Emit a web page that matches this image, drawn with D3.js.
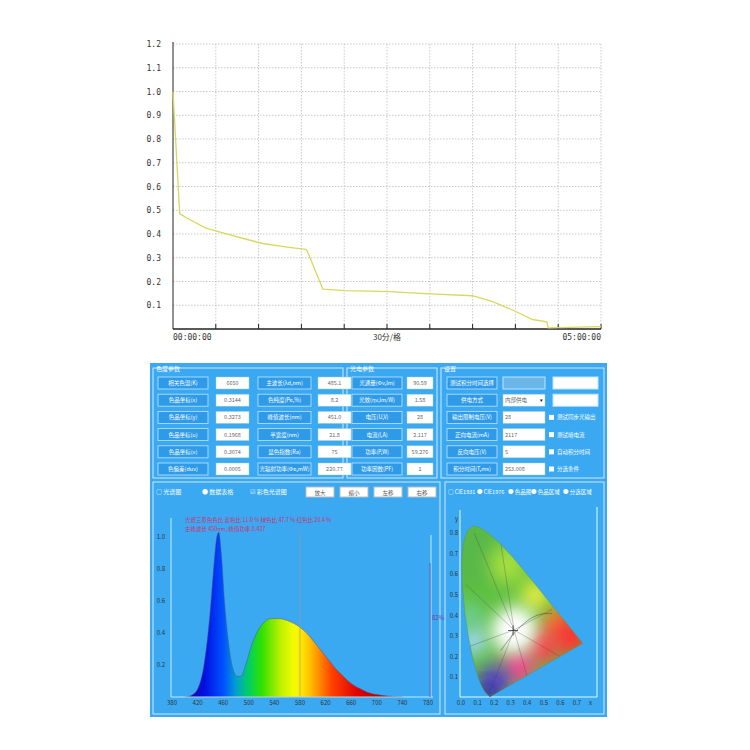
<!DOCTYPE html>
<html><head><meta charset="utf-8">
<script src="https://cdn.jsdelivr.net/npm/d3@7"></script>
<style>body{margin:0;background:#fff}svg{display:block;font-family:"Noto Sans CJK SC","DejaVu Sans",sans-serif}</style>
</head><body><svg id="c" width="750" height="750"></svg>
<script>
// ---- top decay curve (minutes, relative value)
const decayTime = [0,4.7,12,23,35,50,63,80,93,94,105,121,152,180,210,224,238,252,262,263,300];
const decayValue = [1.0,0.485,0.46,0.425,0.405,0.38,0.36,0.345,0.335,0.33,0.168,0.162,0.157,0.148,0.14,0.115,0.08,0.04,0.03,0.005,0.01];
const yTicks = [0.1,0.2,0.3,0.4,0.5,0.6,0.7,0.8,0.9,1.0,1.1,1.2];
// ---- spectrum
const wl = [400,410,420,430,440,445,450,453,457,462,468,475,482,488,495,505,515,525,535,545,555,565,575,585,595,605,615,625,635,645,655,665,675,685,700,720,740];
const spec = [0,0.01,0.05,0.2,0.55,0.8,1.0,1.03,0.9,0.6,0.35,0.18,0.13,0.13,0.2,0.33,0.42,0.47,0.49,0.49,0.485,0.47,0.45,0.42,0.38,0.33,0.28,0.23,0.18,0.14,0.1,0.07,0.05,0.03,0.015,0.005,0];
const specXTicks = [380,420,460,500,540,580,620,660,700,740,780];
const specYTicks = [0.2,0.4,0.6,0.8,1.0];
// ---- parameter tables
const colorLabels = ["相关色温(K)","色品坐标(x)","色品坐标(y)","色品坐标(u)","色品坐标(v)","色偏差(duv)"];
const colorValues = ["6650","0.3144","0.3273","0.1968","0.3074","0.0005"];
const colorLabels2 = ["主波长(λd,nm)","色纯度(Pe,%)","峰值波长(nm)","半宽度(nm)","显色指数(Ra)","光辐射功率(Φe,mW)"];
const colorValues2 = ["485.1","8.2","451.0","21.8","75","220.77"];
const elecLabels = ["光通量(Φv,lm)","光效(ηv,lm/W)","电压(U,V)","电流(I,A)","功率(P,W)","功率因数(PF)"];
const elecValues = ["90.59","1.58","28","2.117","59.276","1"];
const setLabels = ["测试积分时间选择","供电方式","输出限制电压(V)","正向电流(mA)","反向电压(V)","积分时间(T,ms)"];
const setValues = ["","内部供电","28","2117","5","253.008"];
const setChecks = ["","","测试同步光输出","测试暗电流","自动积分时间","分选条件"];
// ---- CIE locus
const locusX = [0.1741,0.1440,0.1241,0.1096,0.0913,0.0687,0.0454,0.0235,0.0082,0.0039,0.0139,0.0389,0.0743,0.1142,0.1547,0.2296,0.3016,0.3731,0.4441,0.5125,0.5752,0.6270,0.6915,0.7190,0.7347];
const locusY = [0.0050,0.0297,0.0578,0.0868,0.1327,0.2007,0.2950,0.4127,0.5384,0.6548,0.7502,0.8120,0.8338,0.8262,0.8059,0.7543,0.6923,0.6245,0.5547,0.4866,0.4242,0.3725,0.3083,0.2809,0.2653];
const cieTicksX = [0,0.1,0.2,0.3,0.4,0.5,0.6,0.7];
const cieTicksY = [0.1,0.2,0.3,0.4,0.5,0.6,0.7,0.8];

const svg = d3.select("#c");
const defs = svg.append("defs");

// ===== top chart
const x = d3.scaleLinear().domain([0,300]).range([173,601]);
const y = d3.scaleLinear().domain([0,1.2]).range([329,44]);
const topG = svg.append("g");
topG.selectAll(".gx").data(d3.range(30,301,30)).join("line")
 .attr("x1",d=>x(d)).attr("x2",d=>x(d)).attr("y1",44).attr("y2",329)
 .attr("stroke","#bbb").attr("stroke-dasharray","1.5,1.5").attr("stroke-width",0.8);
topG.selectAll(".gy").data(yTicks).join("line")
 .attr("x1",173).attr("x2",601).attr("y1",d=>y(d)).attr("y2",d=>y(d))
 .attr("stroke","#bbb").attr("stroke-dasharray","1.5,1.5").attr("stroke-width",0.8);
topG.selectAll(".yl").data(yTicks).join("text").attr("x",161).attr("y",d=>y(d)+3)
 .attr("text-anchor","end").attr("font-size",8).attr("fill","#333").attr("font-family","DejaVu Sans Mono").text(d=>d.toFixed(1));
topG.append("line").attr("x1",173).attr("x2",173).attr("y1",42).attr("y2",329).attr("stroke","#222");
topG.append("line").attr("x1",173).attr("x2",601).attr("y1",329).attr("y2",329).attr("stroke","#222").attr("stroke-width",1.5);
topG.selectAll(".xt").data(d3.range(30,301,30)).join("line").attr("x1",d=>x(d)).attr("x2",d=>x(d)).attr("y1",324).attr("y2",329).attr("stroke","#222");
topG.append("text").attr("x",173).attr("y",340).attr("font-size",8).attr("font-family","DejaVu Sans Mono").attr("fill","#333").text("00:00:00");
topG.append("text").attr("x",387).attr("y",340).attr("font-size",8).attr("text-anchor","middle").attr("fill","#333").text("30分/格");
topG.append("text").attr("x",601).attr("y",340).attr("font-size",8).attr("text-anchor","end").attr("font-family","DejaVu Sans Mono").attr("fill","#333").text("05:00:00");
topG.append("path").datum(decayTime.map((t,i)=>[t,decayValue[i]]))
 .attr("d",d3.line().x(d=>x(d[0])).y(d=>y(d[1]))).attr("fill","none").attr("stroke","#d8d860").attr("stroke-width",1.3);

// ===== bottom panel
const P = svg.append("g");
P.append("rect").attr("x",150).attr("y",363).attr("width",457).attr("height",354).attr("fill","#3aa9f2");
function frame(x0,y0,w,h,title){
  P.append("rect").attr("x",x0).attr("y",y0).attr("width",w).attr("height",h).attr("fill","none").attr("stroke","#cfe9ff").attr("stroke-width",1);
  if(title) P.append("text").attr("x",x0+3).attr("y",y0+3).attr("font-size",6).attr("fill","#fff").text(title);
}
frame(153,368,190,110,"色度参数");frame(347,368,90,110,"光电参数");frame(441,368,163,110,"设置");
frame(153,482,287,232);frame(445,482,159,232);
const rowsY = d3.range(6).map(i=>383+i*17.2);
function labelBox(x0,w,t,yc){
  P.append("rect").attr("x",x0).attr("y",yc-6).attr("width",w).attr("height",12).attr("fill","#2f9be8").attr("stroke","#bfe3ff").attr("stroke-width",0.8);
  P.append("text").attr("x",x0+w/2).attr("y",yc+2).attr("text-anchor","middle").attr("font-size",5.5).attr("fill","#fff").text(t);
}
function valBox(x0,w,t,yc,align){
  P.append("rect").attr("x",x0).attr("y",yc-6).attr("width",w).attr("height",12).attr("fill","#fff").attr("stroke","#9cc").attr("stroke-width",0.5);
  P.append("text").attr("x",align?x0+2:x0+w/2).attr("y",yc+2).attr("text-anchor",align?"start":"middle").attr("font-size",5.5).attr("fill","#666").text(t);
}
rowsY.forEach((yc,i)=>{
  labelBox(158,50,colorLabels[i],yc); valBox(216,33,colorValues[i],yc);
  labelBox(258,53,colorLabels2[i],yc); valBox(318,33,colorValues2[i],yc);
  labelBox(352,50,elecLabels[i],yc); valBox(407,26,elecValues[i],yc);
  labelBox(447,50,setLabels[i],yc);
  if(i===0){P.append("rect").attr("x",503).attr("y",yc-6).attr("width",42).attr("height",12).attr("fill","#6bb6e8").attr("stroke","#bfe3ff");
    P.append("rect").attr("x",553).attr("y",yc-6).attr("width",45).attr("height",12).attr("fill","#fff").attr("stroke","#bfe3ff");}
  else if(i===1){valBox(503,42,setValues[i],yc,true);P.append("text").attr("x",540).attr("y",yc+2).attr("font-size",5).text("▾");
    P.append("rect").attr("x",553).attr("y",yc-6).attr("width",45).attr("height",12).attr("fill","#fff").attr("stroke","#bfe3ff");}
  else {valBox(503,42,setValues[i],yc,true);
    P.append("rect").attr("x",549).attr("y",yc-2.5).attr("width",5).attr("height",5).attr("fill","#fff");
    P.append("text").attr("x",557).attr("y",yc+2).attr("font-size",5.5).attr("fill","#fff").text(setChecks[i]);}
});

// spectrum controls
[["○ 光谱图",156],["● 数据表格",202],["☑ 彩色光谱图",250]].forEach(([t,xx])=>P.append("text").attr("x",xx).attr("y",494).attr("font-size",6).attr("fill","#fff").text(t));
["放大","缩小","左移","右移"].forEach((t,i)=>{const bx=306+i*34;
  P.append("rect").attr("x",bx).attr("y",487).attr("width",28).attr("height",10).attr("fill","#fff").attr("stroke","#bbb");
  P.append("text").attr("x",bx+14).attr("y",494.5).attr("text-anchor","middle").attr("font-size",5.5).attr("fill","#555").text(t);});

const sx = d3.scaleLinear().domain([380,780]).range([172,428]);
const sy = d3.scaleLinear().domain([0,1]).range([697,537]);
function wlColor(w){
  const stops=[[400,"#2a00a0"],[430,"#0010e0"],[460,"#0050ff"],[480,"#00a0d0"],[500,"#00d060"],[520,"#30e000"],[550,"#c0f000"],[575,"#ffff00"],[600,"#ffb000"],[630,"#ff4000"],[670,"#e00000"],[740,"#900000"]];
  for(let i=0;i<stops.length-1;i++){if(w<=stops[i+1][0]){const t=(w-stops[i][0])/(stops[i+1][0]-stops[i][0]);return d3.interpolateRgb(stops[i][1],stops[i+1][1])(Math.max(0,t));}}
  return stops[stops.length-1][1];
}
const lg = defs.append("linearGradient").attr("id","sg").attr("gradientUnits","userSpaceOnUse").attr("x1",sx(400)).attr("x2",sx(740)).attr("y1",0).attr("y2",0);
d3.range(400,741,10).forEach(w=>lg.append("stop").attr("offset",(w-400)/340).attr("stop-color",wlColor(w)));
P.append("path").datum(wl.map((w,i)=>[w,spec[i]]))
 .attr("d",d3.area().curve(d3.curveMonotoneX).x(d=>sx(d[0])).y0(sy(0)).y1(d=>sy(d[1]))).attr("fill","url(#sg)").attr("stroke","#557").attr("stroke-width",0.5);
P.append("line").attr("x1",sx(580)).attr("x2",sx(580)).attr("y1",530).attr("y2",697).attr("stroke","#999").attr("stroke-width",0.7);
P.append("line").attr("x1",171).attr("x2",171).attr("y1",518).attr("y2",697).attr("stroke","#dff").attr("stroke-width",0.8);
P.append("line").attr("x1",171).attr("x2",433).attr("y1",697).attr("y2",697).attr("stroke","#dff").attr("stroke-width",0.8);
P.append("line").attr("x1",431).attr("x2",431).attr("y1",535).attr("y2",697).attr("stroke","#dff").attr("stroke-width",0.8);
P.append("line").attr("x1",430).attr("x2",430).attr("y1",563).attr("y2",697).attr("stroke","#6a6ac0").attr("stroke-width",1.2);
P.append("text").attr("x",432).attr("y",620).attr("font-size",6).attr("fill","#7a3a9a").text("82%");
P.selectAll(".sxl").data(specXTicks).join("text").attr("x",d=>sx(d)).attr("y",705).attr("text-anchor","middle").attr("font-size",6).attr("fill","#333").text(d=>d);
P.selectAll(".syl").data(specYTicks).join("text").attr("x",165).attr("y",d=>sy(d)+2).attr("text-anchor","end").attr("font-size",6).attr("fill","#333").text(d=>d.toFixed(1));
P.append("text").attr("x",185).attr("y",522).attr("font-size",5.5).attr("fill","#d0306a").text("光谱三原色色比    蓝色比    11.0 %    绿色比    47.7 %    红色比    20.4 %");
P.append("text").attr("x",185).attr("y",531).attr("font-size",5.5).attr("fill","#d0306a").text("主峰波长 450nm, 峰值功率 0.427");

// CIE
[["○ CIE1931",448],["● CIE1976",477],["● 色品图",508],["● 色品区域",531],["● 分选区域",563]].forEach(([t,xx])=>P.append("text").attr("x",xx).attr("y",494).attr("font-size",5.5).attr("fill","#fff").text(t));
const cx = d3.scaleLinear().domain([0,0.7]).range([461,577]);
const cy = d3.scaleLinear().domain([0,0.8]).range([698,533]);
P.append("line").attr("x1",460).attr("x2",460).attr("y1",510).attr("y2",697).attr("stroke","#dff");
P.append("line").attr("x1",460).attr("x2",597).attr("y1",697).attr("y2",697).attr("stroke","#dff");
P.append("line").attr("x1",597).attr("x2",597).attr("y1",507).attr("y2",697).attr("stroke","#dff");
P.selectAll(".cxl").data(cieTicksX).join("text").attr("x",d=>cx(d)).attr("y",705).attr("text-anchor","middle").attr("font-size",6).attr("fill","#333").text(d=>d.toFixed(1));
P.append("text").attr("x",589).attr("y",705).attr("font-size",6).attr("fill","#333").text("x");
P.selectAll(".cyl").data(cieTicksY).join("text").attr("x",458).attr("y",d=>cy(d)+2).attr("text-anchor","end").attr("font-size",6).attr("fill","#333").text(d=>d.toFixed(1));
P.append("text").attr("x",455).attr("y",521).attr("font-size",6).attr("fill","#333").text("y");
const locus = locusX.map((v,i)=>[cx(v),cy(locusY[i])]);
defs.append("clipPath").attr("id","lc").append("path").attr("d",d3.line()(locus)+"Z");
defs.append("filter").attr("id","bl").attr("x","-50%").attr("y","-50%").attr("width","200%").attr("height","200%").append("feGaussianBlur").attr("stdDeviation",9);
const cg = P.append("g").attr("clip-path","url(#lc)");
cg.append("rect").attr("x",450).attr("y",520).attr("width",150).attr("height",185).attr("fill","#5fc040");
const blobs=[[0.08,0.7,"#58b848",30],[0.28,0.65,"#a8e040",18],[0.45,0.5,"#f0f040",14],[0.58,0.36,"#ff8030",14],[0.66,0.3,"#ff3030",18],[0.5,0.25,"#ff4050",16],[0.35,0.15,"#ff4090",16],[0.2,0.08,"#6040d0",16],[0.16,0.02,"#2020a0",10],[0.07,0.28,"#a0d8ff",14],[0.05,0.4,"#70d0a0",12],[0.32,0.33,"#ffffff",22]];
blobs.forEach(([bx,by,c,r])=>cg.append("ellipse").attr("cx",cx(bx)).attr("cy",cy(by)).attr("rx",r).attr("ry",r*1.1).attr("fill",c).attr("filter","url(#bl)"));
cg.append("ellipse").attr("cx",cx(0.32)).attr("cy",cy(0.33)).attr("rx",14).attr("ry",9).attr("transform",`rotate(-30 ${cx(0.32)} ${cy(0.33)})`).attr("fill","#fff").attr("filter","url(#bl)");
[[[0.32,0.33],[0.08,0.8]],[[0.32,0.33],[0.03,0.55]],[[0.32,0.33],[0.24,0.75]],[[0.32,0.33],[0.05,0.25]],[[0.32,0.33],[0.17,0.02]],[[0.32,0.33],[0.55,0.43]],[[0.32,0.33],[0.4,0.1]],[[0.32,0.33],[0.6,0.2]]]
 .forEach(s=>cg.append("line").attr("x1",cx(s[0][0])).attr("y1",cy(s[0][1])).attr("x2",cx(s[1][0])).attr("y2",cy(s[1][1])).attr("stroke","#444").attr("stroke-width",0.3));
cg.append("path").attr("d",d3.line().curve(d3.curveBasis)([[cx(0.24),cy(0.23)],[cx(0.33),cy(0.33)],[cx(0.45),cy(0.41)],[cx(0.55),cy(0.41)]])).attr("fill","none").attr("stroke","#444").attr("stroke-width",0.5);
P.append("path").attr("d",d3.line()(locus)+"Z").attr("fill","none").attr("stroke","#5a8a50").attr("stroke-width",0.4);
const px=cx(+colorValues[1]), py=cy(+colorValues[2]);
P.append("path").attr("d",`M${px-5},${py}H${px+5}M${px},${py-5}V${py+5}`).attr("stroke","#333").attr("stroke-width",0.8);
</script></body></html>
